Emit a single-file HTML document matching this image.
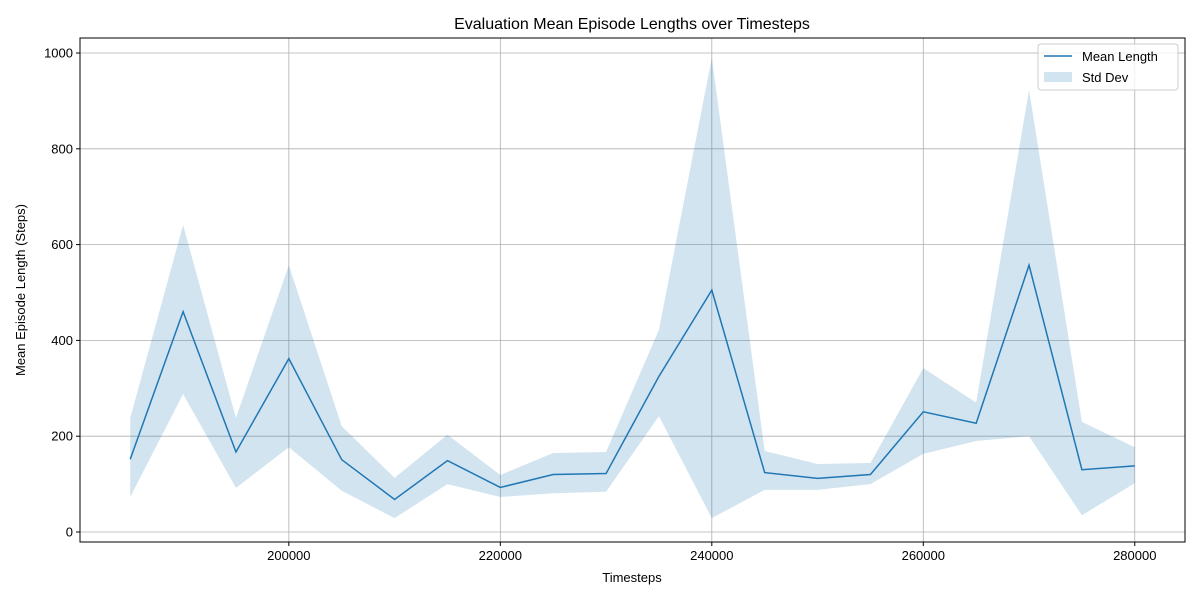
<!DOCTYPE html>
<html><head><meta charset="utf-8"><style>
html,body{margin:0;padding:0;background:#fff;}
svg{display:block;font-family:"Liberation Sans","DejaVu Sans",sans-serif;}
</style></head><body>
<svg id="chart" width="1200" height="600" viewBox="0 0 1200 600" xmlns="http://www.w3.org/2000/svg">
<rect width="1200" height="600" fill="#fff"/>
<text x="632" y="29" text-anchor="middle" font-size="16" fill="#000">Evaluation Mean Episode Lengths over Timesteps</text>
<text x="632" y="582" text-anchor="middle" font-size="13" fill="#000">Timesteps</text>
<text transform="translate(25,290) rotate(-90)" text-anchor="middle" font-size="13" fill="#000">Mean Episode Length (Steps)</text>
<g id="grid"></g>
<g id="band"></g>
<g id="line"></g>
<rect x="80" y="38" width="1105" height="504" fill="none" stroke="#000" stroke-width="1"/>
<g id="ticks"></g>
<g>
<rect x="1038" y="44" width="140" height="46" rx="3" fill="#fff" fill-opacity="0.8" stroke="#ccc"/>
<line x1="1044" y1="56" x2="1072" y2="56" stroke="#1f77b4" stroke-width="1.5"/>
<text x="1082" y="61" font-size="13">Mean Length</text>
<rect x="1044" y="72" width="28" height="10" fill="#1f77b4" fill-opacity="0.2"/>
<text x="1082" y="82" font-size="13">Std Dev</text>
</g>
</svg>
<script>
const timesteps=[185000,190000,195000,200000,205000,210000,215000,220000,225000,230000,235000,240000,245000,250000,255000,260000,265000,270000,275000,280000];
const meanLength=[152,460,167,362,151,68,149,93,120,122,325,505,124,112,120,251,227,557,130,138];
const upperBand=[238,641,238,557,221,113,203,119,165,167,422,990,169,142,144,342,270,923,230,177];
const lowerBand=[73,288,92,177,86,29,100,73,81,84,242,29,88,88,100,163,190,200,35,102];
const xTicks=[200000,220000,240000,260000,280000];
const yTicks=[0,200,400,600,800,1000];
const NS="http://www.w3.org/2000/svg";
const L=80,R=1185,T=38,B=542;
const xMin=180250,xMax=284750;
const sx=v=>L+(v-xMin)/(xMax-xMin)*(R-L);
const sy=v=>532-v*0.479;
function mk(tag,attrs,parent){const e=document.createElementNS(NS,tag);for(const k in attrs)e.setAttribute(k,attrs[k]);document.getElementById(parent).appendChild(e);return e;}
xTicks.forEach(t=>{
  const g=mk('line',{x1:sx(t),x2:sx(t),y1:T,y2:B,stroke:'#b0b0b0','stroke-width':0.8},'grid');
  
  
  const tk=mk('line',{x1:sx(t),x2:sx(t),y1:B,y2:B+4,stroke:'#000'},'ticks');
  
  
  const tx=mk('text',{x:sx(t),y:B+18,'text-anchor':'middle','font-size':13},'ticks');
  tx.textContent=t;
  
  
});
yTicks.forEach(t=>{
  const g=mk('line',{x1:L,x2:R,y1:sy(t),y2:sy(t),stroke:'#b0b0b0','stroke-width':0.8},'grid');
  
  
  const tk=mk('line',{x1:L-4,x2:L,y1:sy(t),y2:sy(t),stroke:'#000'},'ticks');
  
  
  const tx=mk('text',{x:L-7,y:sy(t)+4.5,'text-anchor':'end','font-size':13},'ticks');
  tx.textContent=t;
  
  
});
let pts=timesteps.map((t,i)=>sx(t)+','+sy(upperBand[i]));
for(let i=timesteps.length-1;i>=0;i--)pts.push(sx(timesteps[i])+','+sy(lowerBand[i]));
const band=mk('polygon',{points:pts.join(' '),fill:'#1f77b4','fill-opacity':0.2},'band');


const ln=mk('polyline',{points:timesteps.map((t,i)=>sx(t)+','+sy(meanLength[i])).join(' '),fill:'none',stroke:'#1f77b4','stroke-width':1.5},'line');


</script>
</body></html>
